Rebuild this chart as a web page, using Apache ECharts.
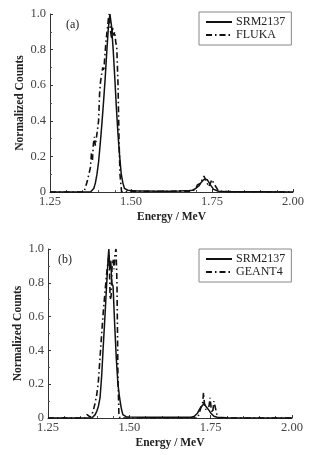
<!DOCTYPE html>
<html>
<head>
<meta charset="utf-8">
<script src="https://cdn.jsdelivr.net/npm/echarts@6/dist/echarts.min.js"></script>
<style>
  html, body { margin: 0; padding: 0; background: #fff; }
  #chart { width: 322px; height: 455px; }
</style>
</head>
<body>
<div id="chart"></div>
<script>
// panel (a) - SRM2137 measured
var srmAEnergy = [1.25, 1.30, 1.35, 1.375, 1.38, 1.385, 1.39, 1.395, 1.40, 1.405, 1.41, 1.415, 1.42, 1.425, 1.43, 1.435, 1.44, 1.445, 1.45, 1.455, 1.46, 1.465, 1.47, 1.475, 1.48, 1.49, 1.50, 1.52, 1.55, 1.58, 1.62, 1.65, 1.68, 1.69, 1.70, 1.71, 1.715, 1.72, 1.725, 1.73, 1.735, 1.74, 1.745, 1.75, 1.755, 1.76, 1.77, 1.80, 1.90, 2.00];
var srmACounts = [0, 0, 0, 0, 0.005, 0.02, 0.05, 0.1, 0.17, 0.27, 0.38, 0.5, 0.63, 0.78, 0.92, 1.0, 0.93, 0.8, 0.64, 0.47, 0.32, 0.2, 0.1, 0.05, 0.02, 0.01, 0.008, 0.006, 0.005, 0.004, 0.004, 0.005, 0.008, 0.01, 0.02, 0.035, 0.05, 0.06, 0.07, 0.08, 0.07, 0.055, 0.04, 0.03, 0.015, 0.008, 0.004, 0.002, 0.002, 0];

// panel (a) - FLUKA simulation
var flukaEnergy = [1.25, 1.355, 1.36, 1.365, 1.37, 1.375, 1.378, 1.381, 1.384, 1.387, 1.39, 1.393, 1.396, 1.40, 1.403, 1.406, 1.41, 1.413, 1.416, 1.42, 1.423, 1.426, 1.43, 1.433, 1.436, 1.44, 1.443, 1.446, 1.45, 1.453, 1.456, 1.46, 1.463, 1.466, 1.471, 1.50, 1.55, 1.60, 1.65, 1.69, 1.70, 1.705, 1.71, 1.715, 1.72, 1.725, 1.73, 1.735, 1.74, 1.745, 1.75, 1.755, 1.76, 1.765, 1.77, 1.80, 2.00];
var flukaCounts = [0, 0, 0.03, 0.06, 0.1, 0.14, 0.22, 0.18, 0.27, 0.31, 0.26, 0.3, 0.29, 0.4, 0.55, 0.62, 0.67, 0.7, 0.68, 0.78, 0.85, 0.9, 0.97, 1.0, 0.92, 0.86, 0.93, 0.88, 0.9, 0.84, 0.82, 0.6, 0.3, 0.1, 0, 0.004, 0.003, 0.004, 0.005, 0.005, 0.02, 0.04, 0.03, 0.05, 0.07, 0.09, 0.07, 0.05, 0.03, 0.05, 0.07, 0.05, 0.06, 0.02, 0.005, 0.002, 0];

// panel (b) - SRM2137 measured
var srmBEnergy = [1.25, 1.35, 1.385, 1.39, 1.395, 1.40, 1.405, 1.41, 1.415, 1.42, 1.425, 1.43, 1.435, 1.437, 1.44, 1.443, 1.446, 1.45, 1.455, 1.46, 1.465, 1.47, 1.475, 1.48, 1.49, 1.50, 1.55, 1.60, 1.65, 1.69, 1.70, 1.71, 1.715, 1.72, 1.725, 1.73, 1.735, 1.74, 1.745, 1.75, 1.755, 1.76, 1.77, 1.80, 2.00];
var srmBCounts = [0, 0, 0, 0.01, 0.02, 0.04, 0.07, 0.12, 0.25, 0.43, 0.6, 0.78, 0.95, 1.0, 0.88, 0.93, 0.8, 0.78, 0.55, 0.35, 0.2, 0.12, 0.06, 0.02, 0.008, 0.006, 0.005, 0.004, 0.004, 0.005, 0.01, 0.03, 0.05, 0.065, 0.075, 0.085, 0.07, 0.06, 0.045, 0.03, 0.02, 0.01, 0.004, 0.002, 0];

// panel (b) - GEANT4 simulation
var geantEnergy = [1.25, 1.365, 1.37, 1.375, 1.38, 1.385, 1.39, 1.395, 1.40, 1.405, 1.41, 1.415, 1.42, 1.425, 1.43, 1.435, 1.438, 1.441, 1.444, 1.447, 1.45, 1.453, 1.456, 1.459, 1.462, 1.465, 1.468, 1.471, 1.71, 1.715, 1.72, 1.725, 1.728, 1.731, 1.735, 1.74, 1.745, 1.748, 1.752, 1.756, 1.76, 1.764, 1.768, 1.772, 2.00];
var geantCounts = [0, 0, 0.02, 0.01, 0.005, 0.02, 0.05, 0.09, 0.14, 0.22, 0.36, 0.5, 0.63, 0.74, 0.85, 0.93, 0.97, 0.7, 0.72, 0.9, 0.94, 0.88, 0.97, 1.0, 0.8, 0.25, 0.02, 0, 0, 0.03, 0.06, 0.08, 0.15, 0.08, 0.05, 0.04, 0.07, 0.12, 0.05, 0.03, 0.1, 0.09, 0.03, 0, 0];

var xTicks = [1.25, 1.50, 1.75, 2.00];
var yTicks = [0, 0.2, 0.4, 0.6, 0.8, 1.0];

function pairs(xs, ys) {
    return xs.map(function (x, i) { return [x, ys[i]]; });
}

var chart = echarts.init(document.getElementById('chart'));
var serif = 'Liberation Serif';
var dashDot = [6, 3, 1.5, 3];

function xAxis(idx) {
    return {
        gridIndex: idx, type: 'value', min: xTicks[0], max: xTicks[xTicks.length - 1], interval: 0.25,
        name: 'Energy / MeV', nameLocation: 'middle', nameGap: 19, nameMoveOverlap: false,
        nameTextStyle: {fontFamily: serif, fontSize: 11.5, fontWeight: 'bold', color: '#222'},
        axisLine: {lineStyle: {color: '#333', width: 1}},
        axisTick: {inside: true, length: 3, lineStyle: {color: '#333'}},
        minorTick: {show: true, splitNumber: 5, length: 2, lineStyle: {color: '#555'}},
        splitLine: {show: false},
        axisLabel: {fontFamily: serif, fontSize: 12.5, color: '#444', margin: 3,
            formatter: function (v) { return v.toFixed(2); }}
    };
}

function yAxis(idx) {
    return {
        gridIndex: idx, type: 'value', min: yTicks[0], max: yTicks[yTicks.length - 1], interval: 0.2,
        name: 'Normalized Counts', nameLocation: 'middle', nameGap: 24, nameMoveOverlap: false,
        nameTextStyle: {fontFamily: serif, fontSize: 11.5, fontWeight: 'bold', color: '#222'},
        axisLine: {show: true, lineStyle: {color: '#333', width: 1}},
        axisTick: {show: true, inside: true, length: 3, lineStyle: {color: '#333'}},
        minorTick: {show: true, splitNumber: 2, length: 2, lineStyle: {color: '#555'}},
        splitLine: {show: false},
        axisLabel: {fontFamily: serif, fontSize: 12.5, color: '#444', margin: 4,
            formatter: function (v) { return v === 0 ? '0' : v.toFixed(1); }}
    };
}

function line(name, data, idx, dashed) {
    return {
        name: name, type: 'line', xAxisIndex: idx, yAxisIndex: idx,
        data: data, symbol: 'none', animation: false,
        lineStyle: {color: '#111', width: dashed ? 1.6 : 1.5, type: dashed ? dashDot : 'solid'},
        itemStyle: {color: '#111'}
    };
}

function legend(top, names) {
    return {
        data: names, orient: 'vertical', left: 199, top: top,
        padding: [4, 6, 4, 6], itemGap: 1, itemWidth: 26, itemHeight: 10,
        borderColor: '#888', borderWidth: 1, borderRadius: 0,
        itemStyle: {opacity: 0},
        textStyle: {fontFamily: serif, fontSize: 12, color: '#222', padding: [0, 0, 0, -1]},
        selectedMode: false
    };
}

var option = {
    backgroundColor: '#fff',
    animation: false,
    grid: [
        {left: 50, right: 29, top: 14, height: 178},
        {left: 48, right: 30, top: 249, height: 169}
    ],
    xAxis: [xAxis(0), xAxis(1)],
    yAxis: [yAxis(0), yAxis(1)],
    legend: [legend(12, ['SRM2137', 'FLUKA']), legend(249, ['SRM2137', 'GEANT4'])],
    graphic: [
        {type: 'text', left: 66, top: 19, style: {text: '(a)', fontFamily: serif, fontSize: 12, fill: '#222'}},
        {type: 'text', left: 58, top: 254, style: {text: '(b)', fontFamily: serif, fontSize: 12, fill: '#222'}}
    ],
    series: [
        line('SRM2137', pairs(srmAEnergy, srmACounts), 0, false),
        line('FLUKA', pairs(flukaEnergy, flukaCounts), 0, true),
        line('SRM2137', pairs(srmBEnergy, srmBCounts), 1, false),
        line('GEANT4', pairs(geantEnergy, geantCounts), 1, true)
    ]
};
chart.setOption(option);
</script>
</body>
</html>
